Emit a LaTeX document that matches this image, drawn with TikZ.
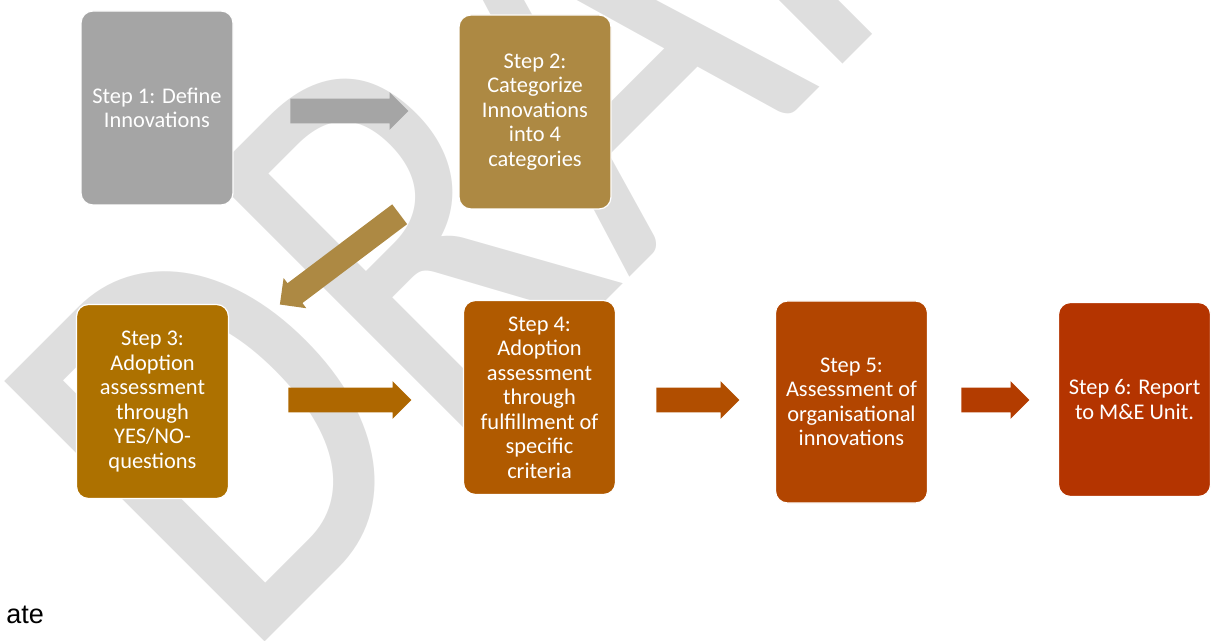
\documentclass[tikz,border=0pt]{standalone}
\usepackage{fontspec}
\setmainfont{Carlito}
\newfontfamily\arialfont{Liberation Sans}
\newfontfamily\draftfont{Carlito}[FakeStretch = 0.82]
\usetikzlibrary{shapes.arrows}
\definecolor{wmgray}{RGB}{222,222,222}
\definecolor{stepone}{HTML}{A5A5A5}
\definecolor{steptwo}{HTML}{AD8943}
\definecolor{stepthree}{HTML}{AD7100}
\definecolor{stepfour}{HTML}{B05A00}
\definecolor{stepfive}{HTML}{B24500}
\definecolor{stepsix}{HTML}{B43400}
\begin{document}
\begin{tikzpicture}[x = 0.5pt, y = -0.5pt,
  stepbox/.style = {draw = white, line width = 0.6pt, rounded corners = 6pt,
    minimum width = 76pt, minimum height = 97pt, inner sep = 0pt,
    align = center, text = white, font = \fontsize{11.2}{12.25}\selectfont},
  blockarrow/.style = {single arrow, minimum width = 18.5pt, inner xsep = 0pt, inner ysep = 6pt,
    single arrow head extend = 3.25pt, anchor = tail}]
\useasboundingbox (0,0) rectangle (1214,641);
% watermark
\begin{scope}
\clip (0,0) rectangle (1214,641);
\node[anchor = base west, inner sep = 0pt, rotate = 45, text = wmgray,
  font = \draftfont\fontsize{287}{287}\selectfont] (draft) at (242.5,664.5) {DRAFT};
\end{scope}
\node[anchor = base west, inner sep = 0pt, font = \arialfont\fontsize{13.5}{15}\selectfont] (ate) at (6,623) {ate};
% steps
\node[stepbox, fill = stepone] (s1) at (157,108) {Step 1: Define\\Innovations};
\node[stepbox, fill = steptwo] (s2) at (535,112) {Step 2:\\Categorize\\Innovations\\into 4\\categories};
\node[stepbox, fill = stepthree] (s3) at (152.5,401.5) {Step 3:\\Adoption\\assessment\\through\\YES/NO-\\questions};
\node[stepbox, fill = stepfour] (s4) at (539.5,397.5) {Step 4:\\Adoption\\assessment\\through\\fulfillment of\\specific\\criteria};
\node[stepbox, fill = stepfive, minimum height = 101pt] (s5) at (851.5,402) {Step 5:\\Assessment of\\organisational\\innovations};
\node[stepbox, fill = stepsix] (s6) at (1134.5,399.5) {Step 6: Report\\to M\&E Unit.};
% arrows
\node[blockarrow, fill = stepone, minimum height = 59pt] (a12) at (290,111) {};
\node[blockarrow, fill = steptwo, minimum height = 75pt, rotate = 217] (a23) at (400,214) {};
\node[blockarrow, fill = stepthree!55!stepfour, minimum height = 61.5pt] (a34) at (288,400) {};
\node[blockarrow, fill = stepfour!45!stepfive, minimum height = 41.5pt] (a45) at (656,400) {};
\node[blockarrow, fill = stepfive!45!stepsix, minimum height = 34pt] (a56) at (961,400) {};
\end{tikzpicture}
\end{document}
